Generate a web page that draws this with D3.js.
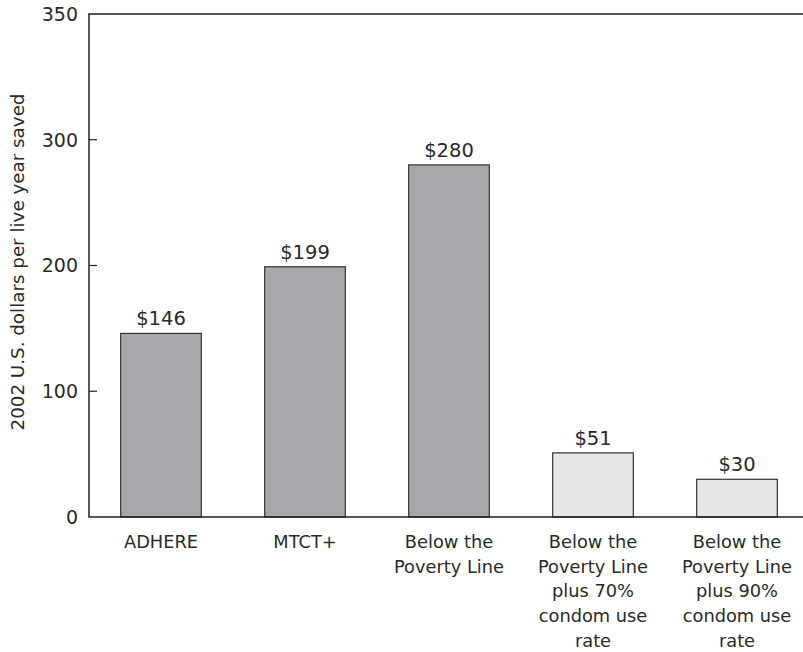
<!DOCTYPE html>
<html>
<head>
<meta charset="utf-8">
<script src="https://cdn.jsdelivr.net/npm/d3@7"></script>
<style>
  html, body { margin: 0; padding: 0; background: #fff; }
  svg { display: block; }
  text { font-family: "DejaVu Sans", "Noto Sans", sans-serif; fill: #2a2a2a; }
</style>
</head>
<body>
<svg id="chart" width="803" height="652"></svg>
<script>
// Cost per life year saved, by program
const categories = [
  ["ADHERE"],
  ["MTCT+"],
  ["Below the", "Poverty Line"],
  ["Below the", "Poverty Line", "plus 70%", "condom use", "rate"],
  ["Below the", "Poverty Line", "plus 90%", "condom use", "rate"]
];
const values = [146, 199, 280, 51, 30];
const valueLabels = ["$146", "$199", "$280", "$51", "$30"];
const barGroup = ["base", "base", "base", "condom", "condom"];
const tickValues = [100, 200, 300];
const axisLabels = [[0, "0"], [100, "100"], [200, "200"], [300, "300"], [400, "350"]];
const yTitle = "2002 U.S. dollars per live year saved";

const svg = d3.select("#chart");
const plotLeft = 89, plotBottom = 517, plotTop = 14, plotRight = 803;

const x = d3.scaleBand()
  .domain(d3.range(values.length))
  .range([plotLeft, plotLeft + 720])
  .paddingInner(0.44)
  .paddingOuter(0.22);

const y = d3.scaleLinear().domain([0, 400]).range([plotBottom, plotTop]);

const fill = d3.scaleOrdinal().domain(["base", "condom"]).range(["#a7a8ab", "#e6e7e8"]);

// bars
svg.append("g").selectAll("rect")
  .data(values)
  .join("rect")
  .attr("x", (d, i) => x(i))
  .attr("width", x.bandwidth())
  .attr("y", d => y(d))
  .attr("height", d => y(0) - y(d))
  .attr("fill", (d, i) => fill(barGroup[i]))
  .attr("stroke", "#333")
  .attr("stroke-width", 1.2);

// value labels above bars
svg.append("g").selectAll("text")
  .data(values)
  .join("text")
  .attr("x", (d, i) => x(i) + x.bandwidth() / 2)
  .attr("y", d => y(d) - 8)
  .attr("text-anchor", "middle")
  .attr("font-size", 19.5)
  .text((d, i) => valueLabels[i]);

// frame: left axis, top edge and baseline
const frame = svg.append("g").attr("stroke", "#231f20").attr("stroke-width", 1.5).attr("fill", "none");
frame.append("path").attr("d", `M${plotRight},${y(400)}H${plotLeft}V${y(0)}H${plotRight}`);

// inward tick marks
svg.append("g").selectAll("line")
  .data(tickValues)
  .join("line")
  .attr("x1", plotLeft).attr("x2", plotLeft + 8)
  .attr("y1", d => y(d)).attr("y2", d => y(d))
  .attr("stroke", "#231f20").attr("stroke-width", 1.2);

// y tick labels
svg.append("g").selectAll("text")
  .data(axisLabels)
  .join("text")
  .attr("x", plotLeft - 11)
  .attr("y", d => y(d[0]))
  .attr("dy", "0.36em")
  .attr("text-anchor", "end")
  .attr("font-size", 19)
  .text(d => d[1]);

// y axis title
svg.append("text")
  .attr("transform", `translate(24, 262) rotate(-90)`)
  .attr("text-anchor", "middle")
  .attr("font-size", 18.3)
  .text(yTitle);

// category labels, one tspan per line
const cat = svg.append("g").selectAll("text")
  .data(categories)
  .join("text")
  .attr("text-anchor", "middle")
  .attr("font-size", 17.8)
  .attr("transform", (d, i) => `translate(${x(i) + x.bandwidth() / 2}, ${plotBottom + 31})`);
cat.selectAll("tspan")
  .data(d => d)
  .join("tspan")
  .attr("x", 0)
  .attr("y", (d, j) => j * 24.7)
  .text(d => d);
</script>
</body>
</html>
